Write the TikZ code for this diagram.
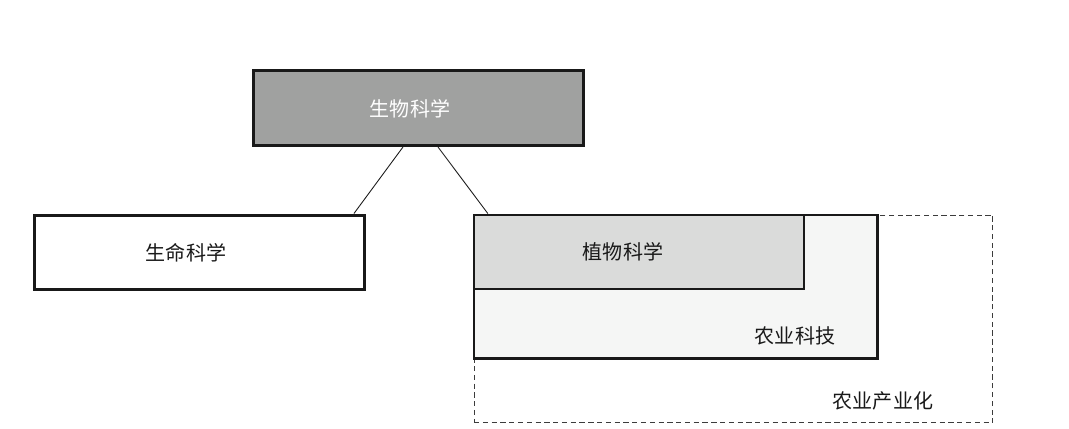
\documentclass[tikz,border=0pt]{standalone}
\usepackage{fontspec}
\newfontfamily\cjk{Noto Sans CJK SC}
\usepackage{xcolor}
\definecolor{boxdark}{RGB}{160,161,160}
\definecolor{boxmid}{RGB}{218,219,218}
\definecolor{boxlight}{RGB}{245,246,245}
\definecolor{lineblack}{RGB}{25,25,25}

\begin{document}
\begin{tikzpicture}[
  x=0.02cm, y=-0.02cm,
  box/.style={rectangle, draw=lineblack, inner sep=0pt, line width=1.7pt, minimum width=6.62cm, minimum height=1.5cm},
  subbox/.style={rectangle, draw=lineblack, inner sep=0pt, line width=1.3pt},
  areabox/.style={rectangle, draw=lineblack!85, dashed, dash pattern=on 3pt off 2pt, inner sep=0pt, line width=0.55pt},
  txt/.style={font=\cjk\fontsize{11.4}{13}\selectfont, text=lineblack},
  link/.style={line width=0.5pt, draw=lineblack}
]
\useasboundingbox (0,0) rectangle (1069,429);

% outer dashed area and the nested boxes
\node[areabox, minimum width=10.38cm, minimum height=4.16cm] (agri) at (733.5,319) {};
\node[subbox, fill=boxlight, minimum width=8.07cm, minimum height=2.87cm] (tech) at (675.75,286.75) {};
\node[subbox, fill=boxmid, minimum width=6.6cm, minimum height=1.49cm,
  label={[txt, xshift=-0.32cm]center:植物科学}] (plant) at (639,252) {};

\node[txt] (techlbl) at (795,336) {农业科技};
\node[txt] (agrilbl) at (883,401) {农业产业化};

% top and left boxes
\node[box, fill=boxdark, label={[txt, text=white, xshift=-0.17cm, yshift=-0.02cm]center:生物科学}] (bio) at (418.5,108) {};
\node[box, fill=white, label={[txt, xshift=-0.27cm]center:生命科学}] (life) at (199.5,252.5) {};

\draw[link] ([xshift=-0.31cm]bio.south) -- ([xshift=-0.25cm]life.north east);
\draw[link] ([xshift=0.39cm]bio.south) -- ([xshift=0.3cm]plant.north west);
\end{tikzpicture}
\end{document}
